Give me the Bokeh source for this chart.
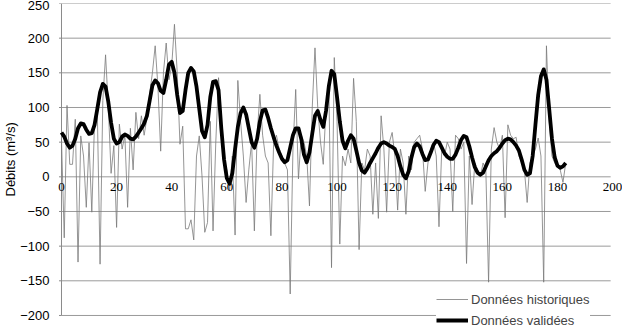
from bokeh.plotting import figure
from bokeh.models import (Range1d, FixedTicker, ColumnDataSource, LabelSet, Legend,
                          LegendItem, Title)
from bokeh.embed import file_html
from bokeh.resources import INLINE

# Historical daily flows (thin grey line), days 0..183
hist_days = list(range(0, 184))
hist_values = [
    55, -88, 103, 18, 18, 83, -123, 59, 30, -44,
    49, -51, 80, 95, -126, 110, 176, 100, 5, 45,
    -73, 76, 40, 60, -44, 70, 10, 93, 55, 88,
    60, 85, 120, 150, 189, 130, 37, 150, 193, 140,
    160, 220, 150, 47, 73, -75, -75, -62, -91, 30,
    59, 1, -80, -66, 80, -78, 50, 143, 80, 20,
    10, -20, 30, -84, 139, 80, 30, -37, 11, 50,
    -78, 60, 119, 60, 30, 20, -85, 50, 60, 40,
    30, 20, 10, -169, 40, 126, -3, 60, 50, 30,
    -42, 100, 186, 100, 50, 18, 100, 140, -131, 172,
    80, -97, 30, 16, 40, 20, 142, 80, -105, 20,
    10, 40, 30, -54, 20, -60, 88, 40, -51, 50,
    64, 30, -48, 40, 20, -54, 30, 10, 50, 55,
    60, 40, -21, 20, 40, 50, 30, -72, 40, 30,
    50, 40, -50, 60, 55, 40, 50, -125, 30, -40,
    20, 10, 0, 20, 10, -152, 40, 71, 50, 40,
    60, -59, 75, 60, 55, 57, 30, 20, 10, -37,
    20, 30, 40, 56, 30, -152, 189, 80, 30, 20,
    15, 10, -8, 20,
]

# Validated daily flows (thick black line), days 0..183
val_days = list(range(0, 184))
val_values = [
    64, 58, 48, 42, 45, 55, 70, 77, 76, 68,
    62, 63, 75, 98, 122, 134, 130, 108, 78, 55,
    48, 50, 58, 61, 59, 55, 54, 58, 64, 70,
    77, 88, 110, 132, 139, 135, 124, 121, 140, 162,
    166, 150, 118, 92, 95, 125, 150, 157, 152, 130,
    98, 66, 57, 75, 115, 137, 138, 125, 70, 25,
    -2, -10, 5, 40, 72, 92, 100, 90, 70, 50,
    42, 55, 80, 96, 97, 85, 70, 57, 45, 35,
    26, 21, 24, 42, 60, 70, 70, 55, 32, 21,
    35, 62, 88, 95, 82, 72, 95, 130, 153, 148,
    115, 80, 52, 41, 52, 60, 55, 38, 20, 9,
    6, 12, 20, 27, 34, 42, 48, 50, 48, 45,
    43, 40, 30, 15, 3, -2, 8, 28, 43, 48,
    44, 33, 24, 25, 35, 46, 52, 50, 42, 34,
    29, 26, 26, 32, 42, 53, 59, 57, 44, 28,
    14, 6, 3, 6, 15, 24, 30, 34, 37, 42,
    48, 53, 55, 54, 50, 45, 38, 25, 10, 3,
    5, 30, 75, 118, 145, 155, 140, 98, 55, 28,
    16, 13, 15, 20,
]

x_ticks = [0, 20, 40, 60, 80, 100, 120, 140, 160, 180, 200]
y_ticks = [-200, -150, -100, -50, 0, 50, 100, 150, 200, 250]

FONT = "Liberation Sans"
X_MIN, X_MAX = 0, 200
Y_MIN, Y_MAX = -200, 250

# frame extends a little past the axes so tick labels and legend are not clipped
p = figure(width=622, height=333, output_backend="svg", toolbar_location=None,
           x_range=Range1d(-2.9, 203.6), y_range=Range1d(-226, Y_MAX),
           min_border_left=52, min_border_right=0, min_border_top=3, min_border_bottom=0)
p.outline_line_color = None
p.background_fill_color = "white"
p.border_fill_color = "white"

p.xaxis.visible = False
p.xgrid.grid_line_color = None
p.ygrid.grid_line_color = None

# horizontal gridlines at the y ticks, across the data x-range
n = len(y_ticks)
p.segment(x0=[X_MIN] * n, x1=[X_MAX - 0.7] * n, y0=y_ticks, y1=y_ticks,
          line_color="#9a9a9a", line_width=1)
# small tick marks left of the vertical axis
p.segment(x0=[X_MIN - 0.9] * n, x1=[X_MIN] * n, y0=y_ticks, y1=y_ticks,
          line_color="#8a8a8a", line_width=1)
# vertical axis line
p.segment(x0=[X_MIN], x1=[X_MIN], y0=[Y_MIN], y1=[Y_MAX], line_color="#8a8a8a", line_width=1)

p.yaxis.ticker = FixedTicker(ticks=y_ticks)
p.yaxis.axis_line_color = None
p.yaxis.major_tick_line_color = None
p.yaxis.major_tick_out = 0
p.yaxis.major_tick_in = 0
p.yaxis.minor_tick_line_color = None
p.yaxis.major_label_text_font = FONT
p.yaxis.major_label_text_font_size = "13px"
p.yaxis.major_label_text_color = "black"
p.yaxis.major_label_standoff = 4

ytitle = Title(text="Débits (m³/s)", align="left", offset=137, standoff=0,
               text_font=FONT, text_font_size="13px", text_font_style="normal",
               text_color="black")
p.add_layout(ytitle, "left")

r_hist = p.line(hist_days, hist_values, line_color="#7a7a7a", line_width=0.8)
r_val = p.line(val_days, val_values, line_color="black", line_width=3.8, line_join="round")

tick_src = ColumnDataSource(dict(x=x_ticks, y=[0] * len(x_ticks), t=[str(v) for v in x_ticks]))
labels = LabelSet(x="x", y="y", text="t", source=tick_src, text_align="center",
                  text_baseline="top", y_offset=-6, text_font=FONT,
                  text_font_size="13px", text_color="black")
p.add_layout(labels)

legend = Legend(items=[LegendItem(label="Données historiques", renderers=[r_hist]),
                       LegendItem(label="Données validées", renderers=[r_val])],
                location=(383, 4))
legend.label_text_font = FONT
legend.label_text_font_size = "13px"
legend.border_line_color = None
legend.background_fill_color = "white"
legend.background_fill_alpha = 1
legend.glyph_width = 32
legend.glyph_height = 18
legend.label_height = 18
legend.label_standoff = 3
legend.spacing = 3
legend.padding = 2
legend.margin = 0
p.add_layout(legend)

open("out.html", "w").write(file_html(p, INLINE))
